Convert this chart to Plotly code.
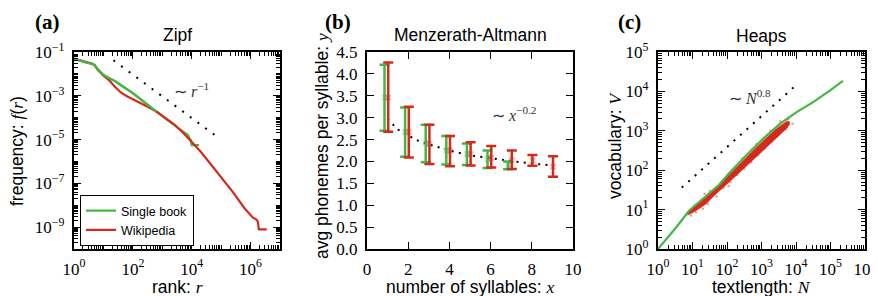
import plotly.graph_objects as go

W, H = 878, 296
# the page body adds an 8px margin; positions below are given in screenshot pixels
OX, OY = 8, 8

GREEN = "#45b645"
RED = "#d42a1e"

# ---------------- Panel (a): Zipf (log10 values) ----------------
zipf_book_logr = [0, 0.2, 0.4, 0.6, 0.7, 0.8, 1.0, 1.2, 1.4, 1.6, 1.8, 2.0, 2.4, 2.8, 3.2, 3.6, 3.8, 3.88, 3.92, 3.97, 4.0, 4.25]
zipf_book_logf = [-1.3, -1.4, -1.48, -1.53, -1.6, -1.78, -2.05, -2.2, -2.33, -2.52, -2.7, -2.88, -3.3, -3.73, -4.13, -4.53, -4.72, -4.8, -4.92, -5.02, -5.25, -5.25]
zipf_wiki_logr = [0, 0.2, 0.4, 0.6, 0.7, 0.8, 1.0, 1.2, 1.4, 1.6, 1.8, 2.0, 2.2, 2.5, 2.8, 3.1, 3.4, 3.7, 4.0, 4.3, 4.6, 5.0, 5.4, 5.8, 6.0, 6.1, 6.17, 6.25, 6.28, 6.55]
zipf_wiki_logf = [-1.3, -1.37, -1.44, -1.53, -1.6, -1.8, -2.08, -2.3, -2.6, -2.86, -3.02, -3.15, -3.3, -3.5, -3.72, -4.0, -4.3, -4.68, -5.1, -5.55, -6.05, -6.7, -7.4, -8.15, -8.45, -8.6, -8.62, -8.75, -9.1, -9.1]
zipf_guide_logr = [1.34, 4.85]
zipf_guide_logf = [-1.38, -4.86]
zipf_x_labelled = [0, 2, 4, 6]
zipf_y_labelled = [-9, -7, -5, -3, -1]

# ---------------- Panel (b): Menzerath-Altmann ----------------
ma_book_x = [1, 2, 3, 4, 5, 6, 7]
ma_book_y = [3.46, 2.67, 2.42, 2.25, 2.17, 2.05, 1.93]
ma_book_top = [4.21, 3.23, 2.84, 2.58, 2.41, 2.25, 2.0]
ma_book_bot = [2.70, 2.11, 1.98, 1.93, 1.92, 1.85, 1.82]
ma_wiki_x = [1, 2, 3, 4, 5, 6, 7, 8, 9]
ma_wiki_y = [3.46, 2.67, 2.40, 2.25, 2.17, 2.08, 2.03, 2.02, 1.88]
ma_wiki_top = [4.26, 3.25, 2.84, 2.58, 2.44, 2.35, 2.25, 2.15, 2.12]
ma_wiki_bot = [2.68, 2.09, 1.94, 1.89, 1.91, 1.86, 1.83, 1.90, 1.65]
ma_guide_x = [1, 1.5, 2, 2.5, 3, 4, 5, 6, 7, 8, 9]
ma_guide_y = [2.97, 2.73, 2.59, 2.47, 2.39, 2.25, 2.14, 2.07, 2.01, 1.95, 1.91]
ma_offset_book = -0.15
ma_offset_wiki = 0.03
ma_xticks = [0, 2, 4, 6, 8, 10]
ma_yticks = [0, 0.5, 1, 1.5, 2, 2.5, 3, 3.5, 4, 4.5]

# ---------------- Panel (c): Heaps (log10 values) ----------------
heaps_book_logN = [0, 0.5, 0.9, 1.2, 1.57, 1.77, 2.06, 2.56, 3.05, 3.54, 4.03, 4.52, 5.01, 5.36]
heaps_book_logV = [0, 0.52, 0.97, 1.2, 1.5, 1.63, 1.92, 2.38, 2.8, 3.18, 3.48, 3.74, 4.04, 4.27]
heaps_wiki_logN = [0.85, 1.0, 1.2, 1.4, 1.6, 1.8, 2.0, 2.2, 2.4, 2.6, 2.8, 3.0, 3.2, 3.4, 3.6, 3.75, 3.82]
heaps_wiki_upper = [0.93, 1.04, 1.18, 1.33, 1.49, 1.63, 1.83, 2.0, 2.18, 2.36, 2.54, 2.71, 2.88, 3.03, 3.16, 3.25, 3.22]
heaps_wiki_lower = [0.86, 0.92, 1.03, 1.15, 1.33, 1.48, 1.65, 1.81, 1.98, 2.13, 2.3, 2.46, 2.63, 2.8, 2.96, 3.08, 3.18]
heaps_wiki_pts_logN = [0.95, 1.1, 1.3, 1.45, 1.5, 1.7, 1.9, 2.1, 2.3, 2.5, 2.7, 2.9, 3.1, 3.3, 3.5, 3.7, 3.78, 3.55, 3.25, 2.85, 2.45, 1.35, 3.9, 1.05, 2.05, 3.45]
heaps_wiki_pts_logV = [0.85, 0.93, 1.02, 1.14, 1.47, 1.33, 1.55, 1.7, 1.88, 2.03, 2.2, 2.38, 2.55, 2.72, 2.9, 3.04, 3.3, 3.24, 3.0, 2.66, 2.3, 1.4, 3.18, 1.1, 1.6, 2.85]
heaps_guide_logN = [0.69, 3.98]
heaps_guide_logV = [1.56, 4.14]
heaps_x_labelled = [0, 1, 2, 3, 4, 5, 6]
heaps_y_labelled = [0, 1, 2, 3, 4, 5]

def p10(a):
    return [10 ** v for v in a]

fig = go.Figure()

# panel a
fig.add_trace(go.Scatter(x=p10(zipf_book_logr), y=p10(zipf_book_logf), mode="lines",
                         line=dict(color=GREEN, width=2.2), name="Single book", xaxis="x", yaxis="y"))
fig.add_trace(go.Scatter(x=p10(zipf_wiki_logr), y=p10(zipf_wiki_logf), mode="lines",
                         line=dict(color=RED, width=2.2), name="Wikipedia", xaxis="x", yaxis="y"))
fig.add_trace(go.Scatter(x=p10(zipf_book_logr[:14]), y=p10(zipf_book_logf[:14]), mode="lines",
                         line=dict(color=GREEN, width=2.2), showlegend=False, xaxis="x", yaxis="y"))
fig.add_trace(go.Scatter(x=p10(zipf_guide_logr), y=p10(zipf_guide_logf), mode="lines",
                         line=dict(color="black", width=2, dash="2px,7.5px"), showlegend=False,
                         xaxis="x", yaxis="y"))

# panel b
fig.add_trace(go.Scatter(x=ma_guide_x, y=ma_guide_y, mode="lines",
                         line=dict(color="black", width=2, dash="2px,5.3px"), showlegend=False,
                         xaxis="x2", yaxis="y2"))
fig.add_trace(go.Scatter(
    x=[v + ma_offset_book for v in ma_book_x], y=ma_book_y, mode="markers",
    marker=dict(symbol="x", size=6, color="rgba(69,182,69,0.35)"),
    error_y=dict(type="data", symmetric=False,
                 array=[t - c for t, c in zip(ma_book_top, ma_book_y)],
                 arrayminus=[c - b for b, c in zip(ma_book_bot, ma_book_y)],
                 color=GREEN, thickness=2.5, width=5),
    showlegend=False, xaxis="x2", yaxis="y2"))
fig.add_trace(go.Scatter(
    x=[v + ma_offset_wiki for v in ma_wiki_x], y=ma_wiki_y, mode="markers",
    marker=dict(symbol="x", size=6, color="rgba(212,42,30,0.35)"),
    error_y=dict(type="data", symmetric=False,
                 array=[t - c for t, c in zip(ma_wiki_top, ma_wiki_y)],
                 arrayminus=[c - b for b, c in zip(ma_wiki_bot, ma_wiki_y)],
                 color=RED, thickness=2.5, width=5),
    showlegend=False, xaxis="x2", yaxis="y2"))

# panel c
fig.add_trace(go.Scatter(x=p10(heaps_guide_logN), y=p10(heaps_guide_logV), mode="lines",
                         line=dict(color="black", width=2, dash="2px,6.7px"), showlegend=False,
                         xaxis="x3", yaxis="y3"))
fig.add_trace(go.Scatter(x=p10(heaps_wiki_pts_logN), y=p10(heaps_wiki_pts_logV), mode="markers",
                         marker=dict(size=2.5, color="rgba(212,42,30,0.45)"), showlegend=False,
                         xaxis="x3", yaxis="y3"))
fig.add_trace(go.Scatter(x=p10(heaps_wiki_logN), y=p10(heaps_wiki_lower), mode="lines",
                         line=dict(color="rgba(212,42,30,0.6)", width=1), showlegend=False,
                         xaxis="x3", yaxis="y3"))
fig.add_trace(go.Scatter(x=p10(heaps_wiki_logN), y=p10(heaps_wiki_upper), mode="lines",
                         line=dict(color="rgba(212,42,30,0.6)", width=1), fill="tonexty",
                         fillcolor=RED, showlegend=False, xaxis="x3", yaxis="y3"))
fig.add_trace(go.Scatter(x=p10(heaps_book_logN), y=p10(heaps_book_logV), mode="lines",
                         line=dict(color=GREEN, width=2.2), showlegend=False,
                         xaxis="x3", yaxis="y3"))

def PX(x):
    return (x - OX) / W

def PY(y):
    return 1 - (y - OY) / H

def xd(a, b):
    return [PX(a), PX(b)]

def yd(top, bot):
    return [PY(bot), PY(top)]

TICKFONT = dict(family="Liberation Serif", size=17, color="black")

def exp_text(k):
    s = str(k).replace("-", "\u2212")
    return f"10<sup>{s}</sup>"

def log_axis(lo, hi, labelled):
    vals = [10 ** k for k in labelled]
    text = [exp_text(k) for k in labelled]
    minor = [m * 10 ** k for k in range(lo, hi) for m in range(2, 10)]
    minor += [10 ** k for k in range(lo, hi + 1) if k not in labelled]
    return dict(type="log", range=[lo, hi], tickmode="array", tickvals=vals, ticktext=text,
                minor=dict(tickmode="array", tickvals=minor, ticks="inside", ticklen=3.5,
                           tickwidth=1, tickcolor="black"))

common = dict(showline=True, linewidth=2.2, linecolor="black", mirror="allticks",
              ticks="inside", ticklen=7, tickwidth=1.4, tickcolor="black", automargin=False,
              showgrid=False, zeroline=False, tickfont=TICKFONT)
xcommon = dict(common, ticklabelstandoff=3)
ycommon = dict(common, ticklabelstandoff=4)

TOP, BOT = 52, 249
fig.update_layout(
    template="none",
    width=W, height=H, margin=dict(l=0, r=0, t=0, b=0, pad=0, autoexpand=False),
    paper_bgcolor="white", plot_bgcolor="white",
    font=dict(family="Liberation Sans", color="black"),
    xaxis=dict(domain=xd(74, 280), anchor="y", **xcommon, **log_axis(0, 7, zipf_x_labelled)),
    yaxis=dict(domain=yd(TOP, BOT), anchor="x", **ycommon, **log_axis(-10, -1, zipf_y_labelled)),
    xaxis2=dict(domain=xd(367, 573), anchor="y2", range=[0, 10], tickvals=ma_xticks, **xcommon),
    yaxis2=dict(domain=yd(TOP, BOT), anchor="x2", range=[0, 4.5],
                tickvals=ma_yticks, ticktext=[f"{v:.1f}" for v in ma_yticks], **ycommon),
    xaxis3=dict(domain=xd(658, 865), anchor="y3", **xcommon, **log_axis(0, 6, heaps_x_labelled)),
    yaxis3=dict(domain=yd(TOP, BOT), anchor="x3", **ycommon, **log_axis(0, 5, heaps_y_labelled)),
    legend=dict(x=PX(80), y=PY(195), xanchor="left", yanchor="top", traceorder="normal",
                bordercolor="black", borderwidth=1, bgcolor="white",
                font=dict(family="Liberation Sans", size=12.5, color="black"),
                itemwidth=30, tracegroupgap=0),
)

SANS = "Liberation Sans"
SERIF_I = lambda s: f"<span style=\"font-family:Liberation Serif\"><i>{s}</i></span>"

annots = []
def ann(x, y, text, size, family=SANS, angle=0, color="black", xanchor="center", yanchor="middle"):
    annots.append(dict(x=PX(x), y=PY(y), xref="paper", yref="paper", text=text,
                       showarrow=False, textangle=angle, xanchor=xanchor, yanchor=yanchor,
                       font=dict(family=family, size=size, color=color)))

# panel labels
for lx, lab in [(47, "(a)"), (338, "(b)"), (629, "(c)")]:
    ann(lx, 8.5, f"<b>{lab}</b>", 21, family="Liberation Serif", yanchor="top")
# titles
ann(177, 35, "Zipf", 17.5)
ann(470, 35, "Menzerath-Altmann", 17.5)
ann(761, 36, "Heaps", 17.5)
# x titles
ann(177, 286.5, "rank: " + SERIF_I("r"), 17.5)
ann(470, 286.5, "number of syllables: " + SERIF_I("x"), 17.5)
ann(761, 286.5, "textlength: " + SERIF_I("N"), 17.5)
# y titles
ann(17, 151, "frequency: " + SERIF_I("f") + "(" + SERIF_I("r") + ")", 17.5, angle=-90)
ann(322, 146, "avg phonemes per syllable: " + SERIF_I("y"), 17.5, angle=-90)
ann(615, 146, "vocabulary: " + SERIF_I("V"), 17.5, angle=-90)

fig.update_layout(annotations=annots)

GUIDEFONT = dict(family="Liberation Serif", size=16, color="#333")
fig.add_annotation(x=3.33, y=-2.73, xref="x", yref="y", text="\u223c <i>r</i><sup>\u22121</sup>",
                   showarrow=False, xanchor="left", font=GUIDEFONT)
fig.add_annotation(x=5.95, y=3.08, xref="x2", yref="y2", text="\u223c <i>x</i><sup>\u22120.2</sup>",
                   showarrow=False, xanchor="left", font=GUIDEFONT)
fig.add_annotation(x=2.0, y=3.87, xref="x3", yref="y3", text="\u223c <i>N</i><sup>0.8</sup>",
                   showarrow=False, xanchor="left", font=GUIDEFONT)

fig.write_html("out.html")
